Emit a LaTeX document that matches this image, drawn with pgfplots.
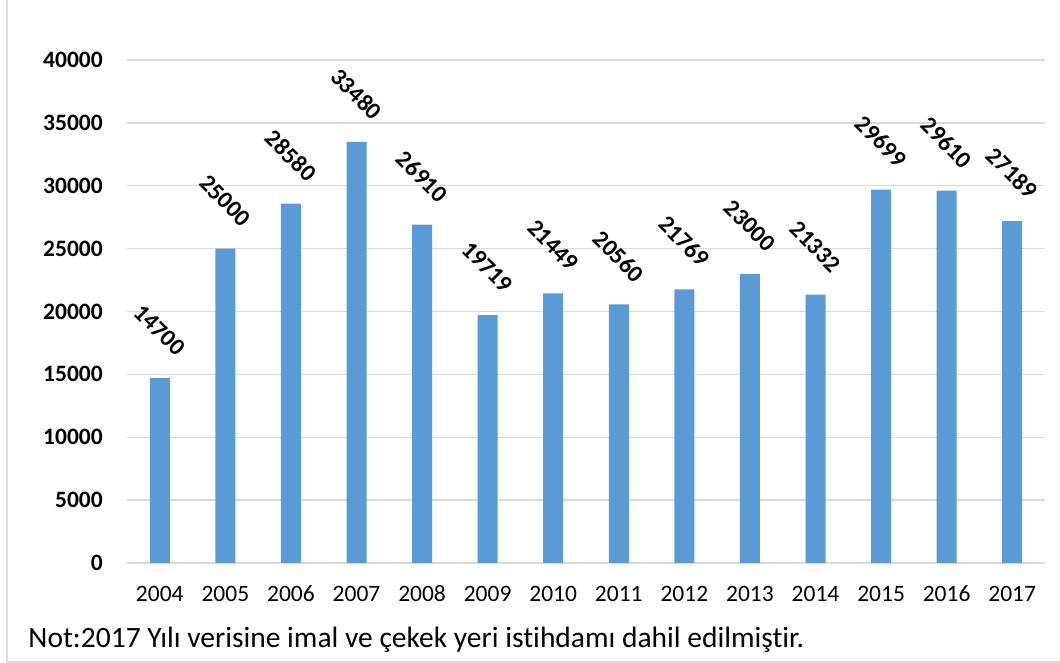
\documentclass[border=0pt]{standalone}
\usepackage{fontspec}
\setmainfont{Carlito}[Ligatures=NoCommon]
\usepackage{pgfplots}
\pgfplotsset{compat=1.18}
\definecolor{barblue}{HTML}{5B9BD5}
\definecolor{gridgray}{HTML}{D9D9D9}
\begin{document}
\begin{tikzpicture}
\useasboundingbox (-127pt,-100pt) rectangle (933pt,563pt);
\draw[gridgray, line width=2pt] (-120pt,563pt) -- (-120pt,-98.7pt) -- (933pt,-98.7pt);
\begin{axis}[
  at={(0pt,0pt)}, anchor=south west,
  scale only axis, width=918pt, height=503pt,
  ybar, bar width=20pt,
  xmin=-0.5, xmax=13.5, ymin=0, ymax=40000,
  xtick={0,...,13},
  xticklabels={2004,2005,2006,2007,2008,2009,2010,2011,2012,2013,2014,2015,2016,2017},
  ytick={0,5000,...,40000},
  yticklabels={0,5000,10000,15000,20000,25000,30000,35000,40000},
  scaled y ticks=false,
  axis line style={draw=none},
  major tick length=0pt,
  ymajorgrids, grid style={draw=gridgray, line width=1.4pt},
  xticklabel style={font=\fontsize{23.5}{28}\selectfont, anchor=base, inner sep=0pt, yshift=-38.7pt},
  yticklabel style={font=\fontsize{23.5}{28}\selectfont\bfseries, anchor=east, inner sep=0pt, xshift=-24pt},
  nodes near coords, point meta=explicit symbolic,
  every node near coord/.append style={font=\fontsize{24}{28}\selectfont\bfseries, yshift=48pt, rotate=-45, anchor=center, inner sep=0pt},
  clip=false,
]
\addplot[fill=barblue, draw=none] coordinates {
(0,14700) [14700]
(1,25000) [25000]
(2,28580) [28580]
(3,33480) [33480]
(4,26910) [26910]
(5,19719) [19719]
(6,21449) [21449]
(7,20560) [20560]
(8,21769) [21769]
(9,23000) [23000]
(10,21332) [21332]
(11,29699) [29699]
(12,29610) [29610]
(13,27189) [27189]
};
\end{axis}
\node[anchor=base west, inner sep=0pt, font=\fontsize{29.5}{34}\selectfont] at (-98.7pt,-84.3pt) {Not:2017 Yılı verisine imal ve çekek yeri istihdamı dahil edilmiştir.};
\end{tikzpicture}
\end{document}
